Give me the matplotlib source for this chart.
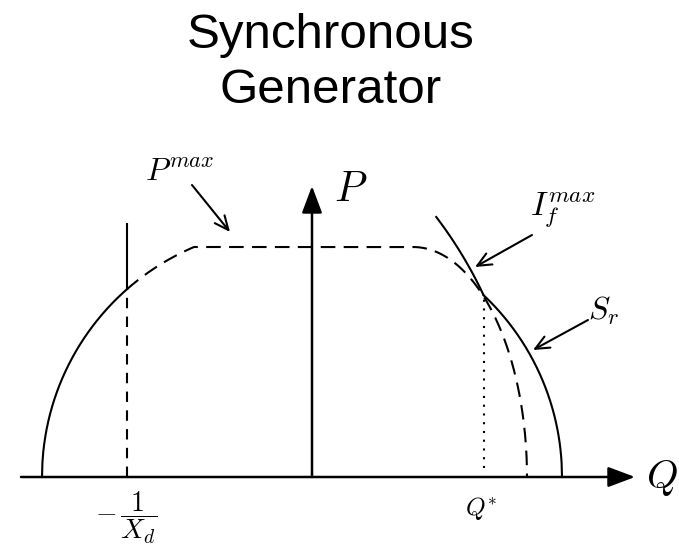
import numpy as np
import matplotlib.pyplot as plt

plt.rcParams['mathtext.fontset'] = 'cm'

# -------------------------
# valores (unidades: S_r = 1)
# -------------------------
S_r = 1.0            # raio do limite de corrente do estator
left_center = -0.08  # centro do arco da esquerda
P_max = 0.92         # limite de potencia da turbina
Xd_inv = 0.74        # posicao de -1/Xd
Q_star = 0.686       # Q*
ell_center = 0.404   # inicio da queda do P^max
ell_a = 0.456        # semi-eixo horizontal
If_center = -0.868   # centro do circulo de corrente de campo
If_radius = 1.716
If_top = 1.04
stab_top = 1.012

# escala: 250 px por unidade, origem em (312, 477)
px = 250.0
W, H = 679, 548
ox, oy = 312, 477

fig = plt.figure(figsize=(W / 100, H / 100), dpi=100)
ax = fig.add_axes([0, 0, 1, 1])
ax.set_xlim(-ox / px, (W - ox) / px)
ax.set_ylim(-(H - oy) / px, oy / px)
ax.axis('off')

lw = 1.5
k = 'black'

# eixos
ax.annotate('', xy=(1.292, 0), xytext=(-1.164, 0),
            arrowprops=dict(arrowstyle='-|>,head_length=1.65,head_width=0.62',
                            mutation_scale=10, lw=1.8, color=k,
                            shrinkA=0, shrinkB=0))
ax.annotate('', xy=(0, 1.164), xytext=(0, 0),
            arrowprops=dict(arrowstyle='-|>,head_length=1.65,head_width=0.62',
                            mutation_scale=10, lw=1.8, color=k,
                            shrinkA=0, shrinkB=0))

# arco da esquerda (solido ate -1/Xd, depois tracejado)
x_cross = -Xd_inv
x1 = np.linspace(left_center - S_r, x_cross, 200)
y1 = np.sqrt(np.clip(S_r**2 - (x1 - left_center)**2, 0, None))
ax.plot(x1, y1, color=k, lw=lw)
y_cross = np.sqrt(S_r**2 - (x_cross - left_center)**2)
x_flat0 = left_center - np.sqrt(S_r**2 - P_max**2)
x2 = np.linspace(x_cross, x_flat0, 50)
y2 = np.sqrt(S_r**2 - (x2 - left_center)**2)

# P^max tracejado: arco + reta + quarto de elipse
t = np.linspace(0, np.pi / 2, 200)
xe = ell_center + ell_a * np.sin(t)
ye = P_max * np.cos(t)
xd = np.concatenate([x2, [ell_center], xe])
yd = np.concatenate([y2, [P_max], ye])
ax.plot(xd, yd, color=k, lw=lw, dashes=(7, 4))

# linha de estabilidade -1/Xd
ax.plot([x_cross, x_cross], [y_cross, stab_top], color=k, lw=lw)
ax.plot([x_cross, x_cross], [0, y_cross], color=k, lw=lw, dashes=(5, 4))

# limite S_r (direita)
x3 = np.linspace(Q_star, S_r, 200)
y3 = np.sqrt(np.clip(S_r**2 - x3**2, 0, None))
ax.plot(x3, y3, color=k, lw=lw)

# limite de corrente de campo
y4 = np.linspace(np.sqrt(S_r**2 - Q_star**2), If_top, 100)
x4 = If_center + np.sqrt(If_radius**2 - y4**2)
ax.plot(x4, y4, color=k, lw=lw)

# Q* pontilhado
ax.plot([Q_star, Q_star], [0.035, np.sqrt(S_r**2 - Q_star**2)],
        color=k, lw=lw, dashes=(1, 3.2))

# setas das legendas
def pix(x, y):
    return ((x - ox) / px, (oy - y) / px)

arr = dict(arrowstyle='->,head_length=1.0,head_width=0.45', mutation_scale=10,
           lw=1.5, color=k, shrinkA=0, shrinkB=0)
ax.annotate('', xy=pix(230, 232), xytext=pix(192, 185), arrowprops=arr)
ax.annotate('', xy=pix(475, 267), xytext=pix(532, 235), arrowprops=arr)
ax.annotate('', xy=pix(533, 350), xytext=pix(588, 320), arrowprops=arr)

# textos
ax.text(*pix(180, 172), r'$P^{max}$', fontsize=23, ha='center', va='center')
ax.text(*pix(563, 210), r'$I_f^{max}$', fontsize=24, ha='center', va='center')
ax.text(*pix(604, 311), r'$S_r$', fontsize=23, ha='center', va='center')
ax.text(*pix(351, 189), r'$P$', fontsize=30, ha='center', va='center')
ax.text(*pix(662, 478), r'$Q$', fontsize=29, ha='center', va='center')
ax.text(*pix(126, 518), r'$-\,\dfrac{1}{X_d}$', fontsize=20, ha='center', va='center')
ax.text(*pix(481, 508), r'$Q^{*}$', fontsize=18, ha='center', va='center')

fig.text(331 / W, 1 - 63 / H, 'Synchronous\nGenerator', fontsize=35.5,
         family='Liberation Sans', ha='center', va='center', linespacing=1.3)

fig.savefig('out.png', dpi=100)
